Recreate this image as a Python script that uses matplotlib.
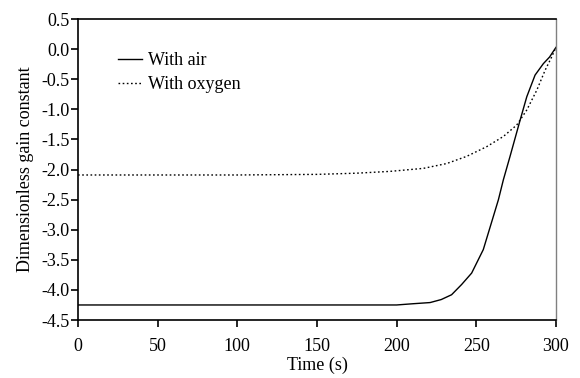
import numpy as np
import matplotlib
matplotlib.use('Agg')
import matplotlib.pyplot as plt

# Data
t_air = [0, 50, 100, 150, 200, 210, 221, 228, 234.5, 240.8, 247.1, 254.4, 260.7, 263.9, 267, 271.2, 277.5, 281.7, 286.9, 292.1, 296, 300]
v_air = [-4.25, -4.25, -4.25, -4.25, -4.25, -4.23, -4.21, -4.16, -4.08, -3.91, -3.72, -3.33, -2.78, -2.5, -2.17, -1.78, -1.18, -0.79, -0.43, -0.24, -0.13, 0.03]

t_oxy = [0, 50, 100, 150, 175, 195.9, 216.8, 231.4, 244, 256.5, 267, 275.4, 281.7, 288, 293.2, 297.3, 300]
v_oxy = [-2.09, -2.09, -2.09, -2.08, -2.06, -2.03, -1.98, -1.9, -1.78, -1.62, -1.45, -1.26, -1.01, -0.68, -0.35, -0.13, 0.03]

xticks = [0, 50, 100, 150, 200, 250, 300]
yticks = [0.5, 0.0, -0.5, -1.0, -1.5, -2.0, -2.5, -3.0, -3.5, -4.0, -4.5]

plt.rcParams['font.family'] = ['Liberation Serif', 'DejaVu Serif']
fs = 13

fig = plt.figure(figsize=(5.8, 3.78), dpi=100)
ax = fig.add_axes([0.1345, 0.1534, 0.824, 0.796])

ax.plot(t_air, v_air, color='black', linewidth=1.0, label='With air')
ax.plot(t_oxy, v_oxy, color='black', linewidth=1.0, linestyle=(0, (1.2, 1.8)), label='With oxygen')

ax.set_xlim(0, 300)
ax.set_ylim(-4.5, 0.5)
ax.set_xticks(xticks)
ax.set_yticks(yticks)
ax.set_yticklabels(['%.1f' % v for v in yticks])
ax.tick_params(axis='both', direction='out', length=5, width=1.2, labelsize=fs, colors='black')
ax.tick_params(axis='x', pad=8)
ax.tick_params(axis='y', pad=1)

for s in ['left', 'bottom', 'top']:
    ax.spines[s].set_linewidth(1.2)
    ax.spines[s].set_color('black')
ax.spines['right'].set_color('#808080')
ax.spines['right'].set_linewidth(1.0)

ax.set_xlabel('Time (s)', fontsize=fs, labelpad=1)
ax.set_ylabel('Dimensionless gain constant', fontsize=fs, labelpad=5)

ax.legend(loc='upper left', bbox_to_anchor=(0.068, 0.915), frameon=False, fontsize=fs,
          handlelength=1.35, handletextpad=0.3, labelspacing=0.4, borderaxespad=0)

fig.savefig('out.png', dpi=100)
